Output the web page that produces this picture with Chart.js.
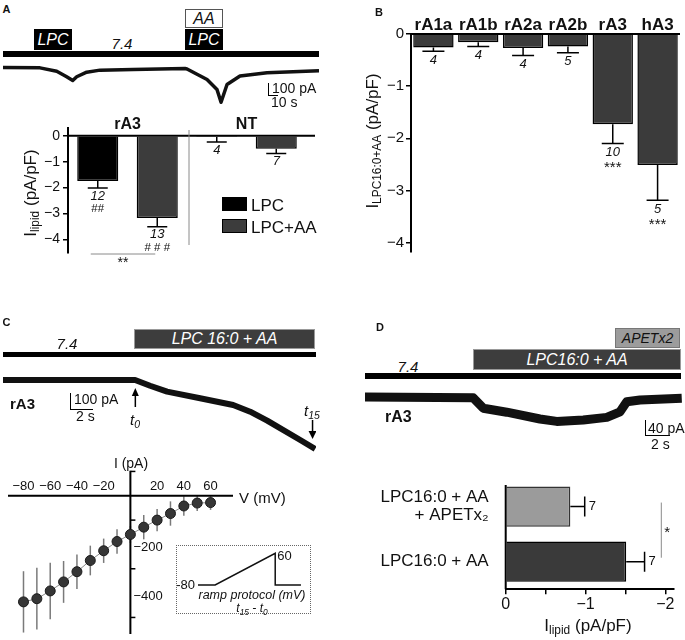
<!DOCTYPE html>
<html>
<head>
<meta charset="utf-8">
<title>Lipid currents</title>
<script src="https://cdn.jsdelivr.net/npm/chart.js@4.4.1/dist/chart.umd.min.js"></script>
<style>
  html, body { margin: 0; padding: 0; background: #fff; }
  #fig { position: relative; width: 685px; height: 640px; overflow: hidden;
         font-family: "Liberation Sans", Arial, Helvetica, sans-serif; color: #111; }
  #fig canvas { position: absolute; }
  .t { position: absolute; white-space: nowrap; line-height: 1; }
  .b { position: absolute; box-sizing: border-box; }
  sub { font-size: 0.7em; vertical-align: -0.3em; line-height: 0; }
</style>
</head>
<body>
<div id="fig">
  <canvas id="traceA" width="316" height="54" style="left:3px;top:58px"></canvas>
  <canvas id="barsA" width="320" height="160" style="left:0;top:110px"></canvas>
  <canvas id="barsB" width="345" height="270" style="left:340px;top:0"></canvas>
  <canvas id="traceC" width="313" height="85" style="left:3px;top:370px"></canvas>
  <canvas id="ivC" width="340" height="185" style="left:0;top:455px"></canvas>
  <canvas id="rampC" width="135" height="44" style="left:176px;top:546px"></canvas>
  <canvas id="traceD" width="317" height="45" style="left:365px;top:385px"></canvas>
  <canvas id="barsD" width="345" height="170" style="left:340px;top:470px"></canvas>
</div>
<script>
// ---- data ----
// A: example trace (time s, current pA)
const traceATime = [0, 44.6, 64.7, 76.7, 84, 88.8, 100.8, 116.9, 156.6, 219.3, 221.7, 245.8, 257.8, 262.7, 269.9, 285.5, 318.1, 380.7];
const traceACurrent = [0, -3, -31, -77, -108, -77, -39, -22, -17, -8, -12, -100, -183, -290, -142, -71, -43, -27];

// A: summary bars (pA/pF)
const groupsA = ['rA3', 'NT'];
const seriesA = ['LPC', 'LPC+AA'];
const lpcA = [-1.75, -0.05];
const lpcErrA = [0.27, 0.19];
const lpcNA = [12, 4];
const lpcSigA = ['##', ''];
const lpcAaA = [-3.18, -0.5];
const lpcAaErrA = [0.34, 0.19];
const lpcAaNA = [13, 7];
const lpcAaSigA = ['# # #', ''];

// B
const receptorsB = ['rA1a', 'rA1b', 'rA2a', 'rA2b', 'rA3', 'hA3'];
const currentB = [-0.26, -0.16, -0.27, -0.24, -1.73, -2.51];
const errB = [0.07, 0.08, 0.14, 0.12, 0.37, 0.68];
const nB = [4, 4, 4, 5, 10, 5];
const sigB = ['', '', '', '', '***', '***'];

// C: trace (time s, current pA), t0 / t15 marks
const traceCTime = [0, 11.48, 12.78, 14.26, 17.13, 20, 21.48, 22.96, 25.83, 27.13];
const traceCCurrent = [0, 0, -36, -73, -114, -156, -198, -254, -375, -431];
const marksC = [11.5, 26.9];

// C: I-V relation
const voltC = [-80, -70, -60, -50, -40, -30, -20, -10, 0, 10, 20, 30, 40, 50, 60];
const currentC = [-436, -423, -391, -354, -312, -266, -226, -188, -159, -129, -100, -73, -42, -30, -28];
const errC = [126, 127, 116, 86, 71, 61, 50, 50, 35, 50, 46, 50, 40, 33, 30];
const xTicksC = [-80, -60, -40, -20, 20, 40, 60];

// C: ramp protocol (ms, mV)
const rampTime = [0, 20, 90, 90, 120];
const rampVolt = [-80, -80, 60, -80, -80];

// D: trace (time s, current pA)
const traceDTime = [0, 8.66, 9.46, 11.34, 14, 15.34, 17.46, 19.34, 20.4, 20.94, 22, 25.34];
const traceDCurrent = [0, -2, -28, -38, -55, -61, -57.5, -51, -37, -12, -7.5, -3];

// D: bars
const conditionsD = [['LPC16:0 + AA', '+ APETx\u2082'], 'LPC16:0 + AA'];
const currentD = [-0.81, -1.51];
const errD = [0.18, 0.23];
const nD = [7, 7];

// ---- helpers ----
const FONT = '"Liberation Sans", Arial, Helvetica, sans-serif';
const minus = v => (v < 0 ? '\u2212' + Math.abs(v) : String(v));
const fig = document.getElementById('fig');

function put(x, y, html, css, anchor, rot) {
  const d = document.createElement('div');
  d.className = 't';
  d.innerHTML = html;
  d.style.cssText = css || '';
  d.style.left = x + 'px';
  d.style.top = y + 'px';
  const tx = anchor === 'l' ? '0' : anchor === 'r' ? '-100%' : '-50%';
  d.style.transform = 'translate(' + tx + ',-50%)' + (rot ? ' rotate(-90deg)' : '');
  fig.appendChild(d);
}
function box(x, y, w, h, css) {
  const d = document.createElement('div');
  d.className = 'b';
  d.style.cssText = css || '';
  d.style.left = x + 'px'; d.style.top = y + 'px';
  d.style.width = w + 'px'; d.style.height = h + 'px';
  fig.appendChild(d);
}
function zeroPad(s) { s.paddingTop = 0; s.paddingBottom = 0; s.paddingLeft = 0; s.paddingRight = 0; }

const base = {
  responsive: false, maintainAspectRatio: false, animation: false, events: [],
  plugins: { legend: { display: false }, tooltip: { enabled: false } }
};

function traceChart(id, times, currents, xMax, yMin, yMax, width, extra) {
  return new Chart(document.getElementById(id), {
    type: 'line',
    data: { datasets: [{
      data: times.map((t, i) => ({ x: t, y: currents[i] })),
      borderColor: '#111', borderWidth: width, pointRadius: 0, tension: 0,
      borderJoinStyle: 'round', borderCapStyle: 'butt', clip: false
    }] },
    options: { ...base, scales: {
      x: { type: 'linear', display: false, min: 0, max: xMax },
      y: { display: false, min: yMin, max: yMax }
    } },
    plugins: extra ? [extra] : []
  });
}

// ---- panel A ----
traceChart('traceA', traceATime, traceACurrent, 380.7, -370.8, 79.2, 3.5);

const slot = (arr, k) => groupsA.flatMap((g, gi) => seriesA.map((s, si) => (si === k ? arr[gi] : null)));

const barsAExtras = {
  id: 'barsAExtras',
  afterDatasetsDraw(chart) {
    const { ctx, chartArea: a, scales: { x, y } } = chart;
    const y0 = y.getPixelForValue(0);
    ctx.save();
    ctx.strokeStyle = '#000';
    ctx.lineWidth = 2;
    ctx.beginPath(); ctx.moveTo(a.left, y0); ctx.lineTo(a.right + 9, y0); ctx.stroke();
    ctx.textAlign = 'center'; ctx.textBaseline = 'middle'; ctx.fillStyle = '#111';
    chart.data.datasets.forEach((ds, di) => {
      chart.getDatasetMeta(di).data.forEach((bar, i) => {
        const v = ds.data[i];
        if (v == null) return;
        const yEnd = y.getPixelForValue(v - ds.errors[i]);
        ctx.lineWidth = 1.5;
        ctx.beginPath();
        ctx.moveTo(bar.x, y.getPixelForValue(v)); ctx.lineTo(bar.x, yEnd);
        ctx.moveTo(bar.x - 10, yEnd); ctx.lineTo(bar.x + 10, yEnd);
        ctx.stroke();
        ctx.font = 'italic 13px ' + FONT;
        ctx.fillText(ds.ns[i], bar.x, yEnd + 8);
        if (ds.sig[i]) {
          ctx.font = '11.5px ' + FONT;
          ctx.fillText(ds.sig[i], bar.x, yEnd + 21);
        }
      });
    });
    // group labels and separator
    ctx.font = 'bold 16px ' + FONT;
    groupsA.forEach((g, gi) => {
      const cx = (x.getPixelForValue(gi * 2) + x.getPixelForValue(gi * 2 + 1)) / 2;
      ctx.fillText(g, cx, a.top - 3);
    });
    const sep = (x.getPixelForValue(1) + x.getPixelForValue(2)) / 2 + 2;
    ctx.strokeStyle = '#8a8a8a'; ctx.lineWidth = 1;
    ctx.beginPath(); ctx.moveTo(sep, a.top + 2); ctx.lineTo(sep, a.bottom - 8); ctx.stroke();
    // rA3 LPC vs LPC+AA
    const x1 = x.getPixelForValue(0) - 7, x2 = x.getPixelForValue(1) - 2;
    ctx.beginPath(); ctx.moveTo(x1, a.bottom + 1); ctx.lineTo(x2, a.bottom + 1); ctx.stroke();
    ctx.font = '14px ' + FONT;
    ctx.fillText('**', (x1 + x2) / 2, a.bottom + 10);
    ctx.restore();
  }
};

new Chart(document.getElementById('barsA'), {
  type: 'bar',
  data: {
    labels: groupsA.flatMap(g => seriesA.map(s => g + ' ' + s)),
    datasets: [
      { label: seriesA[0], data: slot(lpcA, 0), errors: slot(lpcErrA, 0), ns: slot(lpcNA, 0), sig: slot(lpcSigA, 0),
        backgroundColor: '#000', borderColor: '#000', borderWidth: 1.5, skipNull: true, barPercentage: 0.69, categoryPercentage: 1 },
      { label: seriesA[1], data: slot(lpcAaA, 1), errors: slot(lpcAaErrA, 1), ns: slot(lpcAaNA, 1), sig: slot(lpcAaSigA, 1),
        backgroundColor: '#3c3c3c', borderColor: '#000', borderWidth: 1.5, skipNull: true, barPercentage: 0.69, categoryPercentage: 1 }
    ]
  },
  options: {
    ...base,
    layout: { padding: { top: 18, right: 14, bottom: 17, left: 0 } },
    scales: {
      x: { display: false },
      y: {
        min: -4.53, max: 0.3,
        afterFit: s => { s.width = 68; zeroPad(s); },
        border: { color: '#000', width: 2 },
        grid: { drawOnChartArea: false, color: '#000', lineWidth: 1.5, tickLength: 5 },
        ticks: { stepSize: 1, includeBounds: false, padding: 3, color: '#111', font: { size: 14, family: FONT }, callback: v => minus(v) }
      }
    }
  },
  plugins: [barsAExtras]
});

// ---- panel B ----
const barsBExtras = {
  id: 'barsBExtras',
  afterDatasetsDraw(chart) {
    const { ctx, chartArea: a, scales: { x, y } } = chart;
    const y0 = y.getPixelForValue(0);
    ctx.save();
    ctx.strokeStyle = '#000';
    ctx.lineWidth = 2;
    ctx.beginPath(); ctx.moveTo(a.left, y0); ctx.lineTo(a.right, y0); ctx.stroke();
    ctx.lineWidth = 1.5;
    ctx.textAlign = 'center'; ctx.textBaseline = 'middle'; ctx.fillStyle = '#111';
    receptorsB.forEach((r, i) => {
      const px = x.getPixelForValue(i);
      const yEnd = y.getPixelForValue(currentB[i] - errB[i]);
      ctx.beginPath();
      ctx.moveTo(px, y.getPixelForValue(currentB[i])); ctx.lineTo(px, yEnd);
      ctx.moveTo(px - 11, yEnd); ctx.lineTo(px + 11, yEnd);
      ctx.stroke();
      ctx.font = 'italic 13px ' + FONT;
      ctx.fillText(nB[i], px, yEnd + 9);
      if (sigB[i]) {
        ctx.font = '15px ' + FONT;
        ctx.fillText(sigB[i], px, yEnd + 24);
      }
      ctx.font = 'bold 17px ' + FONT;
      ctx.fillText(r, px, a.top - 9);
    });
    ctx.restore();
  }
};

new Chart(document.getElementById('barsB'), {
  type: 'bar',
  data: {
    labels: receptorsB,
    datasets: [{ data: currentB, backgroundColor: '#3b3b3b', borderColor: '#000', borderWidth: 1.5,
                 barPercentage: 0.9, categoryPercentage: 1 }]
  },
  options: {
    ...base,
    layout: { padding: { top: 34, right: 5, bottom: 18, left: 0 } },
    scales: {
      x: { display: false },
      y: {
        min: -4.18, max: 0,
        afterFit: s => { s.width = 71; zeroPad(s); },
        border: { color: '#000', width: 2 },
        grid: { drawOnChartArea: false, color: '#000', lineWidth: 1.5, tickLength: 5 },
        ticks: { stepSize: 1, includeBounds: false, padding: 2, color: '#111', font: { size: 15, family: FONT }, callback: v => minus(v) }
      }
    }
  },
  plugins: [barsBExtras]
});

// ---- panel C ----
const marksCPlugin = {
  id: 'marksC',
  afterDraw(chart) {
    const { ctx, scales: { x } } = chart;
    ctx.save();
    ctx.strokeStyle = '#000'; ctx.fillStyle = '#000'; ctx.lineWidth = 1.5;
    // t0: arrow pointing up
    let px = x.getPixelForValue(marksC[0]);
    ctx.beginPath(); ctx.moveTo(px, 37); ctx.lineTo(px, 24); ctx.stroke();
    ctx.beginPath(); ctx.moveTo(px, 18); ctx.lineTo(px - 3.5, 26); ctx.lineTo(px + 3.5, 26); ctx.closePath(); ctx.fill();
    // t15: arrow pointing down
    px = x.getPixelForValue(marksC[1]);
    ctx.beginPath(); ctx.moveTo(px, 50); ctx.lineTo(px, 62); ctx.stroke();
    ctx.beginPath(); ctx.moveTo(px, 69); ctx.lineTo(px - 4, 61); ctx.lineTo(px + 4, 61); ctx.closePath(); ctx.fill();
    ctx.restore();
  }
};
traceChart('traceC', traceCTime, traceCCurrent, 27.2, -468.75, 62.5, 6, marksCPlugin);

const ivAxes = {
  id: 'ivAxes',
  beforeDatasetsDraw(chart) {
    const { ctx, chartArea: a, scales: { x, y } } = chart;
    const x0 = x.getPixelForValue(0), y0 = y.getPixelForValue(0);
    ctx.save();
    ctx.strokeStyle = '#7a7a7a'; ctx.lineWidth = 1.5;
    voltC.forEach((v, i) => {
      const px = x.getPixelForValue(v);
      ctx.beginPath();
      ctx.moveTo(px, y.getPixelForValue(currentC[i] + errC[i]));
      ctx.lineTo(px, y.getPixelForValue(currentC[i] - errC[i]));
      ctx.stroke();
    });
    ctx.strokeStyle = '#000'; ctx.lineWidth = 2;
    ctx.beginPath();
    ctx.moveTo(a.left, y0); ctx.lineTo(a.right, y0);
    ctx.moveTo(x0, a.top); ctx.lineTo(x0, a.bottom);
    ctx.stroke();
    ctx.lineWidth = 1.5;
    [100, -100, -300, -500].forEach(v => {
      const py = y.getPixelForValue(v);
      ctx.beginPath(); ctx.moveTo(x0, py); ctx.lineTo(x0 + 5, py); ctx.stroke();
    });
    ctx.fillStyle = '#111';
    ctx.font = '13px ' + FONT;
    ctx.textAlign = 'left'; ctx.textBaseline = 'middle';
    [-200, -400].forEach(v => ctx.fillText(minus(v), x0 + 3, y.getPixelForValue(v) + 3));
    ctx.textAlign = 'center';
    xTicksC.forEach(v => ctx.fillText(minus(v), x.getPixelForValue(v), y0 - 9));
    ctx.restore();
  }
};

new Chart(document.getElementById('ivC'), {
  type: 'scatter',
  data: { datasets: [{
    data: voltC.map((v, i) => ({ x: v, y: currentC[i] })),
    showLine: true, borderColor: '#8a8a8a', borderWidth: 1,
    pointRadius: 5, pointBackgroundColor: '#363636', pointBorderColor: '#1a1a1a', pointBorderWidth: 1
  }] },
  options: {
    ...base,
    layout: { padding: { left: 8, right: 107, top: 15.7, bottom: 0 } },
    scales: {
      x: { type: 'linear', display: false, min: -91.6, max: 76.8 },
      y: { display: false, min: -568, max: 103 }
    }
  },
  plugins: [ivAxes]
});

const rampLabels = {
  id: 'rampLabels',
  afterDraw(chart) {
    const { ctx, scales: { x, y } } = chart;
    const last = rampVolt.indexOf(Math.max(...rampVolt));
    ctx.save();
    ctx.fillStyle = '#111'; ctx.font = '13px ' + FONT; ctx.textBaseline = 'middle';
    ctx.textAlign = 'right';
    ctx.fillText(String(rampVolt[0]), x.getPixelForValue(rampTime[0]) - 3, y.getPixelForValue(rampVolt[0]));
    ctx.textAlign = 'left';
    ctx.fillText(String(rampVolt[last]), x.getPixelForValue(rampTime[last]) + 2, y.getPixelForValue(rampVolt[last]) + 3);
    ctx.restore();
  }
};

new Chart(document.getElementById('rampC'), {
  type: 'line',
  data: { datasets: [{
    data: rampTime.map((t, i) => ({ x: t, y: rampVolt[i] })),
    borderColor: '#111', borderWidth: 1.5, pointRadius: 0, tension: 0
  }] },
  options: { ...base, scales: {
    x: { type: 'linear', display: false, min: -25.6, max: 131.7 },
    y: { display: false, min: -102, max: 92.2 }
  } },
  plugins: [rampLabels]
});

// ---- panel D ----
traceChart('traceD', traceDTime, traceDCurrent, 25.36, -82.5, 30, 9);

const barsDExtras = {
  id: 'barsDExtras',
  afterDatasetsDraw(chart) {
    const { ctx, chartArea: a, scales: { x, y } } = chart;
    ctx.save();
    ctx.strokeStyle = '#000'; ctx.lineWidth = 2;
    ctx.beginPath(); ctx.moveTo(a.left, a.top + 6); ctx.lineTo(a.left, a.bottom); ctx.stroke();
    ctx.lineWidth = 1.5;
    ctx.fillStyle = '#111'; ctx.font = '13px ' + FONT;
    ctx.textAlign = 'left'; ctx.textBaseline = 'middle';
    currentD.forEach((v, i) => {
      const py = y.getPixelForValue(i);
      const xEnd = x.getPixelForValue(v - errD[i]);
      ctx.beginPath();
      ctx.moveTo(x.getPixelForValue(v), py); ctx.lineTo(xEnd, py);
      ctx.moveTo(xEnd, py - 10); ctx.lineTo(xEnd, py + 10);
      ctx.stroke();
      ctx.fillText(nD[i], xEnd + 4, py);
    });
    const sx = a.right - 12;
    const ya = y.getPixelForValue(0) - 4, yb = y.getPixelForValue(1) - 4;
    ctx.strokeStyle = '#8a8a8a'; ctx.lineWidth = 1;
    ctx.beginPath(); ctx.moveTo(sx, ya); ctx.lineTo(sx, yb); ctx.stroke();
    ctx.font = '15px ' + FONT;
    ctx.fillText('*', sx + 3, (ya + yb) / 2 + 3);
    ctx.restore();
  }
};

new Chart(document.getElementById('barsD'), {
  type: 'bar',
  data: {
    labels: conditionsD,
    datasets: [{ data: currentD, backgroundColor: ['#9b9b9b', '#3a3a3a'], borderColor: ['#333', '#000'],
                 borderWidth: 1.5, barPercentage: 0.73, categoryPercentage: 1 }]
  },
  options: {
    ...base,
    indexAxis: 'y',
    layout: { padding: { top: 9, right: 11.7, bottom: 20.7, left: 0 } },
    scales: {
      x: {
        reverse: true, min: -2.1, max: 0,
        afterFit: s => { s.height = 30; zeroPad(s); },
        border: { color: '#000', width: 2 },
        grid: { drawOnChartArea: false, color: '#000', lineWidth: 1.5, tickLength: 5 },
        ticks: { stepSize: 0.5, includeBounds: false, autoSkip: false, maxRotation: 0, padding: 1, color: '#111',
                 font: { size: 16, family: FONT }, callback: v => (Number.isInteger(v) ? minus(v) : '') }
      },
      y: {
        afterFit: s => { s.width = 165.7; zeroPad(s); },
        border: { display: false },
        grid: { display: false },
        ticks: { padding: 9, color: '#111', font: { size: 17, family: FONT, lineHeight: 1.08 } }
      }
    }
  },
  plugins: [barsDExtras]
});

// ---- text, solution bars and scale bars ----
const it = 'font-style:italic;';
// A
put(6.5, 9, 'A', 'font-weight:bold;font-size:11px');
box(185, 9, 38, 19, 'border:1.2px solid #555;background:#fff');
put(204, 18.5, 'AA', it + 'font-size:16px');
box(34, 29, 38, 21, 'background:#000');
put(53, 39.5, 'LPC', it + 'font-size:16px;color:#fff');
box(185, 29, 38, 21, 'background:#000');
put(204, 39.5, 'LPC', it + 'font-size:16px;color:#fff');
box(3, 51, 316, 6, 'background:#000');
put(122, 43, '7.4', it + 'font-size:15px');
box(268, 83, 10, 13, 'border-left:1.5px solid #000;border-bottom:1.5px solid #000');
put(272, 88, '100 pA', 'font-size:14px', 'l');
put(271, 102, '10 s', 'font-size:14px', 'l');
put(30, 193, 'I<sub>lipid</sub> (pA/pF)', 'font-size:17px', 'c', true);
box(222, 197, 25, 14, 'background:#000;border:1px solid #000');
put(251, 204.5, 'LPC', 'font-size:17px', 'l');
box(222, 219, 25, 14, 'background:#3c3c3c;border:1.5px solid #000');
put(251, 226.5, 'LPC+AA', 'font-size:17px', 'l');
// B
put(379, 12, 'B', 'font-weight:bold;font-size:11px');
put(372, 141, 'I<sub>LPC16:0+AA</sub> (pA/pF)', 'font-size:17px', 'c', true);
// C
put(6.5, 322, 'C', 'font-weight:bold;font-size:11px');
box(134, 329, 181, 20, 'background:#3d3d3d;border:1px solid #999');
put(224.5, 339, 'LPC 16:0 + AA', it + 'font-size:16px;color:#fff');
box(3, 352, 313, 5, 'background:#000');
put(67, 343, '7.4', it + 'font-size:15px');
put(10, 403, 'rA3', 'font-weight:bold;font-size:15px', 'l');
box(70, 393, 23, 17, 'border-left:1.5px solid #000;border-bottom:1.5px solid #000');
put(74, 399, '100 pA', 'font-size:14px', 'l');
put(76, 416, '2 s', 'font-size:14px', 'l');
put(135, 419, 't<sub>0</sub>', it + 'font-size:15px');
put(312, 410, 't<sub>15</sub>', it + 'font-size:15px');
put(131, 463, 'I (pA)', 'font-size:14px');
put(239, 497, 'V (mV)', 'font-size:15px', 'l');
box(176, 545, 135, 69, 'border:1.5px dotted #666');
put(252, 595, 'ramp protocol (mV)', it + 'font-size:12.5px');
put(252, 608, 't<sub>15</sub> - t<sub>0</sub>', it + 'font-size:12px');
// D
put(380, 327, 'D', 'font-weight:bold;font-size:11px');
box(615, 328, 65, 20, 'background:#9c9c9c;border:1px solid #777');
put(647.5, 338, 'APETx2', it + 'font-size:14px');
box(473, 349, 208, 21, 'background:#3d3d3d;border:1px solid #999');
put(577, 359.5, 'LPC16:0 + AA', it + 'font-size:16px;color:#fff');
box(365, 372.5, 316, 6.5, 'background:#000');
put(408, 366, '7.4', it + 'font-size:15px');
put(385, 417, 'rA3', 'font-weight:bold;font-size:16px', 'l');
box(645, 420, 25, 16, 'border-left:1.5px solid #000;border-bottom:1.5px solid #000');
put(648, 428, '40 pA', 'font-size:14px', 'l');
put(651, 444, '2 s', 'font-size:14px', 'l');
put(588, 625, 'I<sub>lipid</sub> (pA/pF)', 'font-size:17px');
</script>
</body>
</html>
